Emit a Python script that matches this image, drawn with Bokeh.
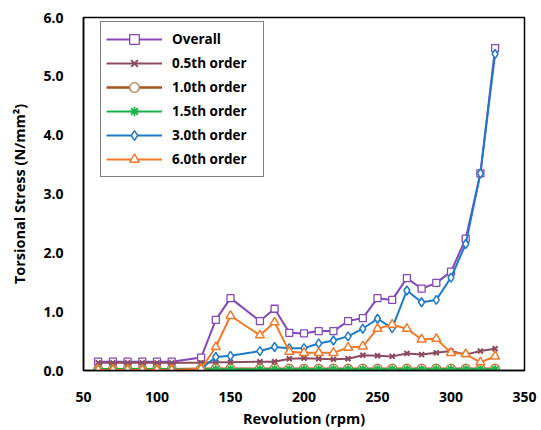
from bokeh.plotting import figure
from bokeh.models import Legend, LegendItem, FixedTicker, PrintfTickFormatter
from bokeh.embed import file_html
from bokeh.resources import INLINE

# ---- data ----
rpm = [60, 70, 80, 90, 100, 110, 130, 140, 150, 170, 180, 190, 200, 210, 220,
       230, 240, 250, 260, 270, 280, 290, 300, 310, 320, 330]
overall = [0.15, 0.15, 0.15, 0.15, 0.15, 0.15, 0.22, 0.86, 1.23, 0.84, 1.05, 0.64, 0.63,
           0.67, 0.67, 0.84, 0.89, 1.23, 1.20, 1.57, 1.39, 1.49, 1.68, 2.24, 3.35, 5.48]
order_05 = [0.13, 0.13, 0.13, 0.13, 0.13, 0.13, 0.13, 0.14, 0.14, 0.15, 0.15, 0.20, 0.21,
            0.20, 0.19, 0.20, 0.26, 0.25, 0.24, 0.29, 0.27, 0.30, 0.33, 0.27, 0.33, 0.37]
order_10 = [0.02, 0.02, 0.02, 0.02, 0.02, 0.02, 0.03, 0.03, 0.03, 0.03, 0.03, 0.03, 0.03,
            0.03, 0.03, 0.03, 0.03, 0.03, 0.03, 0.03, 0.03, 0.03, 0.03, 0.03, 0.03, 0.03]
order_15 = [0.02, 0.02, 0.02, 0.02, 0.02, 0.02, 0.02, 0.02, 0.02, 0.02, 0.02, 0.02, 0.02,
            0.02, 0.02, 0.02, 0.02, 0.02, 0.02, 0.02, 0.02, 0.02, 0.02, 0.02, 0.02, 0.02]
order_30 = [0.01, 0.01, 0.01, 0.01, 0.01, 0.01, 0.03, 0.23, 0.25, 0.33, 0.40, 0.38, 0.38,
            0.46, 0.51, 0.58, 0.71, 0.88, 0.72, 1.36, 1.16, 1.20, 1.58, 2.15, 3.35, 5.38]
order_60 = [0.01, 0.01, 0.01, 0.01, 0.01, 0.01, 0.03, 0.40, 0.93, 0.60, 0.82, 0.32, 0.30,
            0.30, 0.30, 0.39, 0.41, 0.71, 0.78, 0.71, 0.53, 0.54, 0.30, 0.28, 0.14, 0.24]

series_names = ["Overall", "0.5th order", "1.0th order", "1.5th order", "3.0th order", "6.0th order"]
x_ticks = [50, 100, 150, 200, 250, 300, 350]
y_ticks = [0, 1, 2, 3, 4, 5, 6]

FONT = "Open Sans"

p = figure(width=541, height=430, x_range=(50, 350), y_range=(0, 6),
           output_backend="svg", toolbar_location=None,
           min_border_left=83, min_border_right=17, min_border_top=17, min_border_bottom=59)
p.xgrid.visible = False
p.ygrid.visible = False
p.outline_line_color = "black"
p.outline_line_width = 1.5
p.background_fill_color = "white"

for ax in (p.xaxis[0], p.yaxis[0]):
    ax.axis_line_color = "black"
    ax.axis_line_width = 1.5
    ax.major_tick_line_color = None
    ax.minor_tick_line_color = None
    ax.major_label_text_font = FONT
    ax.major_label_text_font_style = "bold"
    ax.major_label_text_font_size = "14px"
    ax.major_label_text_color = "black"
    ax.axis_label_text_font = FONT
    ax.axis_label_text_font_style = "bold"
    ax.axis_label_text_font_size = "14.5px"
    ax.axis_label_text_color = "black"

p.xaxis.ticker = FixedTicker(ticks=x_ticks)
p.yaxis.ticker = FixedTicker(ticks=y_ticks)
p.yaxis.formatter = PrintfTickFormatter(format="%.1f")
p.xaxis.axis_label = "Revolution (rpm)"
p.yaxis.axis_label = "Torsional Stress (N/mm²)"
p.xaxis.major_label_standoff = 15
p.yaxis.major_label_standoff = 14
p.xaxis.axis_label_standoff = 4
p.yaxis.axis_label_standoff = 11

items = []

c = "#8447BC"
l = p.line(rpm, overall, line_color=c, line_width=2)
m = p.scatter(rpm, overall, marker="square", size=7, line_color=c, fill_color="white", line_width=1.3)
items.append(LegendItem(label=series_names[0], renderers=[l, m]))

c = "#8C4A5E"
l = p.line(rpm, order_05, line_color=c, line_width=2)
m = p.scatter(rpm, order_05, marker="x", size=7, line_color=c, line_width=2)
items.append(LegendItem(label=series_names[1], renderers=[l, m]))

c = "#A5541C"
l = p.line(rpm, order_10, line_color=c, line_width=2.5)
m = p.scatter(rpm, order_10, marker="circle", size=9, line_color="#B07A40", fill_color="white", line_width=1.3)
items.append(LegendItem(label=series_names[2], renderers=[l, m]))

c = "#1DB34A"
l = p.line(rpm, order_15, line_color=c, line_width=2)
m = p.scatter(rpm, order_15, marker="asterisk", size=8, line_color=c, line_width=1.8)
items.append(LegendItem(label=series_names[3], renderers=[l, m]))

c = "#1E7AC8"
l = p.line(rpm, order_30, line_color=c, line_width=2)
m = p.scatter(rpm, order_30, marker="diamond", size=9, line_color=c, fill_color="white", line_width=1.5)
items.append(LegendItem(label=series_names[4], renderers=[l, m]))

c = "#F07A2A"
l = p.line(rpm, order_60, line_color=c, line_width=2)
m = p.scatter(rpm, order_60, marker="triangle", size=9, line_color=c, fill_color="white", line_width=1.5)
items.append(LegendItem(label=series_names[5], renderers=[l, m]))

legend = Legend(items=items, location=(17, 193))
legend.border_line_color = "black"
legend.border_line_width = 1.5
legend.background_fill_color = "white"
legend.background_fill_alpha = 1.0
legend.padding = 5
legend.spacing = 0
legend.glyph_width = 56
legend.glyph_height = 24
legend.label_height = 24
legend.label_width = 86
legend.label_standoff = 10
legend.label_text_font = FONT
legend.label_text_font_style = "bold"
legend.label_text_font_size = "13.5px"
legend.label_text_color = "black"
p.add_layout(legend)

open("out.html", "w").write(file_html(p, INLINE))
